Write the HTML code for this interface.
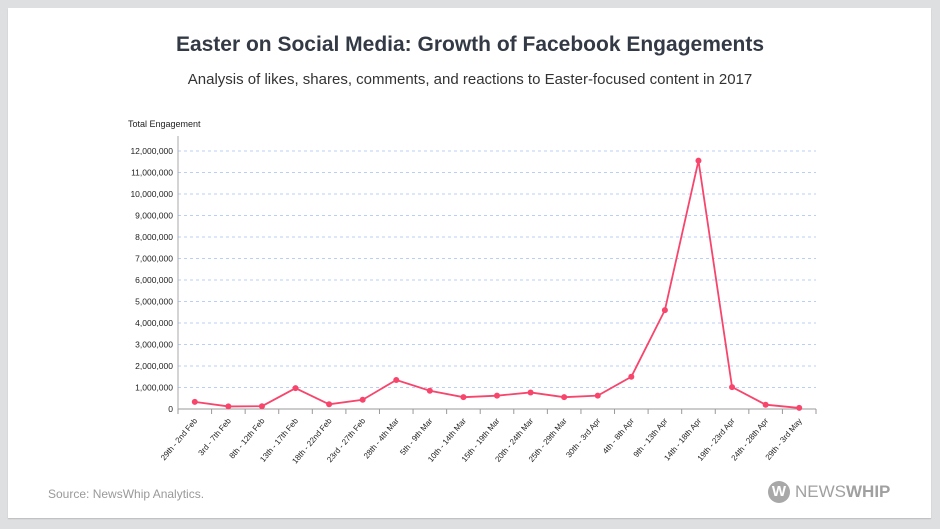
<!DOCTYPE html>
<html><head><meta charset="utf-8">
<style>
body{margin:0;width:940px;height:529px;background:#dedfe1;font-family:"Liberation Sans",sans-serif;overflow:hidden}
#card{position:absolute;left:8px;top:8px;width:923px;height:510px;background:#fff;box-shadow:0 1px 1px #bbb}
h1{position:absolute;left:0;width:940px;top:33px;margin:0;text-align:center;font-size:21px;font-weight:bold;color:#333a45}
#sub{position:absolute;left:0;width:940px;top:71px;text-align:center;font-size:15px;color:#333}
#src{position:absolute;left:48px;top:487px;font-size:12px;color:#999}
#logo{position:absolute;left:768px;top:481px;display:flex;align-items:center;color:#a0a0a0;font-size:17px}
#logo .c{width:22px;height:22px;border-radius:50%;background:#a8a8a8;color:#fff;font-weight:bold;font-size:15px;text-align:center;line-height:22px;margin-right:5px}
svg{position:absolute;left:0;top:0}
</style></head><body>
<div id="card"></div>
<h1>Easter on Social Media: Growth of Facebook Engagements</h1>
<div id="sub">Analysis of likes, shares, comments, and reactions to Easter-focused content in 2017</div>
<svg id="chart" width="940" height="529"></svg>
<div id="src">Source: NewsWhip Analytics.</div>
<div id="logo"><div class="c">W</div><span>NEWS<b>WHIP</b></span></div>
<script>
const categories=["29th - 2nd Feb","3rd - 7th Feb","8th - 12th Feb","13th - 17th Feb","18th - 22nd Feb","23rd - 27th Feb","28th - 4th Mar","5th - 9th Mar","10th - 14th Mar","15th - 19th Mar","20th - 24th Mar","25th - 29th Mar","30th - 3rd Apr","4th - 8th Apr","9th - 13th Apr","14th - 18th Apr","19th - 23rd Apr","24th - 28th Apr","29th - 3rd May"];
const values=[330000,120000,130000,970000,220000,430000,1350000,850000,550000,620000,770000,550000,620000,1500000,4600000,11550000,1020000,200000,50000];
const yTicks=[0,1000000,2000000,3000000,4000000,5000000,6000000,7000000,8000000,9000000,10000000,11000000,12000000];
const NS="http://www.w3.org/2000/svg";
const svg=document.getElementById('chart');
const X0=178,X1=816,Y0=409,PER=21.5/1e6;
const bw=(X1-X0)/categories.length;
const x=i=>X0+bw*(i+0.5);
const y=v=>Y0-v*PER;
function mk(t,a){const e=document.createElementNS(NS,t);for(const k in a)e.setAttribute(k,a[k]);svg.appendChild(e);return e;}
let t=mk('text',{x:128,y:127,'font-size':9,fill:'#222'});t.textContent='Total Engagement';


yTicks.forEach(v=>{
  if(v>0){const g=mk('line',{x1:X0,x2:X1,y1:y(v),y2:y(v),stroke:'#b9cff5','stroke-dasharray':'3,3'});
  
  }
  const l=mk('text',{x:173,y:y(v)+3,'font-size':8.5,'text-anchor':'end',fill:'#222'});
  l.textContent=v.toLocaleString('en-US');
  
  
});
let ya=mk('line',{x1:X0,x2:X0,y1:136,y2:Y0,stroke:'#aaa'});


let xa=mk('line',{x1:X0,x2:X1,y1:Y0,y2:Y0,stroke:'#999'});


categories.forEach((c,i)=>{
  const tx=X0+bw*i;
  mk('line',{x1:tx,x2:tx,y1:Y0,y2:Y0+5,stroke:'#999'});
  if(i==categories.length-1)mk('line',{x1:X1,x2:X1,y1:Y0,y2:Y0+5,stroke:'#999'});
  const l=mk('text',{x:x(i)+3,y:Y0+12,'font-size':8,'text-anchor':'end',fill:'#222',transform:`rotate(-50 ${x(i)+3} ${Y0+12})`});
  l.textContent=c;
  
  
});
const line=mk('polyline',{points:values.map((v,i)=>x(i)+','+y(v)).join(' '),fill:'none',stroke:'#f7456c','stroke-width':1.8});


values.forEach((v,i)=>{
  const p=mk('circle',{cx:x(i),cy:y(v),r:3,fill:'#f7456c'});
  
  
});
</script>
</body></html>
